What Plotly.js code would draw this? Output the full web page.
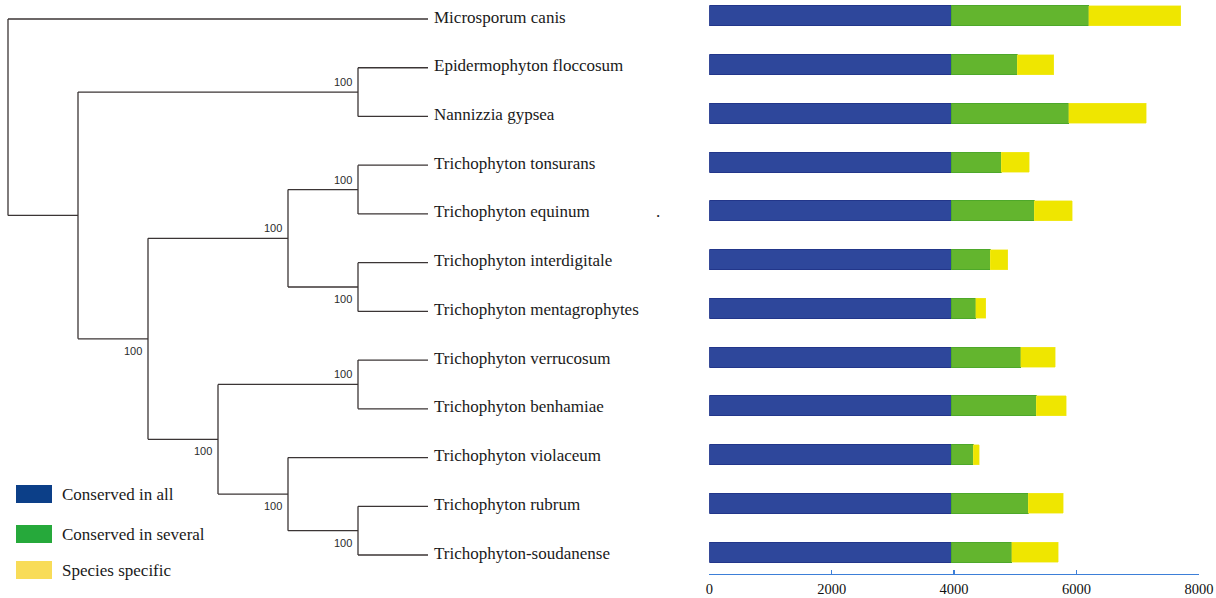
<!DOCTYPE html>
<html><head><meta charset="utf-8">
<script src="https://cdn.plot.ly/plotly-3.0.1.min.js"></script>
<style>html,body{margin:0;padding:0;background:#fff}#chart{width:1216px;height:598px}</style>
</head><body><div id="chart"></div>
<script>
// ---- data ----
const species = ["Microsporum canis","Epidermophyton floccosum","Nannizzia gypsea","Trichophyton tonsurans","Trichophyton equinum","Trichophyton interdigitale","Trichophyton mentagrophytes","Trichophyton verrucosum","Trichophyton benhamiae","Trichophyton violaceum","Trichophyton rubrum","Trichophyton-soudanense"];
const conservedAll     = [3950,3950,3950,3950,3950,3950,3950,3950,3950,3950,3950,3950];
const conservedSeveral = [2250,1080,1920,820,1360,640,400,1140,1390,360,1260,990];
const speciesSpecific  = [1500,600,1270,460,620,290,170,560,490,100,570,760];
const xTicks = [0,2000,4000,6000,8000];
const legendLabels = ["Conserved in all","Conserved in several","Species specific"];
const tree = {support:null, children:[
  "Microsporum canis",
  {support:null, children:[
    {support:100, children:["Epidermophyton floccosum","Nannizzia gypsea"]},
    {support:100, children:[
      {support:100, children:[
        {support:100, children:["Trichophyton tonsurans","Trichophyton equinum"]},
        {support:100, children:["Trichophyton interdigitale","Trichophyton mentagrophytes"]}
      ]},
      {support:100, children:[
        {support:100, children:["Trichophyton verrucosum","Trichophyton benhamiae"]},
        {support:100, children:["Trichophyton violaceum",
          {support:100, children:["Trichophyton rubrum","Trichophyton-soudanense"]}]}
      ]}
    ]}
  ]}
]};

// ---- helpers ----
const W=1216, Hh=598;
const px = x => x/W, py = y => 1 - y/Hh;
const serif = "Liberation Serif, Times New Roman, serif";
const sans = "Liberation Sans, Arial, sans-serif";

function height(n){ return (typeof n==='string') ? 0 : 1 + Math.max(...n.children.map(height)); }
const TH = height(tree);
function layoutNode(n){
  if (typeof n==='string') return {x:TH, y:species.indexOf(n), name:n, leaf:true};
  const kids = n.children.map(layoutNode);
  return {x:TH-height(n), y:(kids[0].y+kids[kids.length-1].y)/2, kids, support:n.support, leaf:false};
}
const root = layoutNode(tree);
const lx=[], ly=[]; const annotations=[];
function draw(nd){
  if (nd.leaf) {
    annotations.push({xref:'x2', yref:'y2', x:nd.x, y:nd.y, text:nd.name, showarrow:false,
      xanchor:'left', yanchor:'middle', xshift:4, yshift:2, font:{family:serif, size:17, color:'#1a1a1a'}});
    return;
  }
  lx.push(nd.x, nd.x, null); ly.push(nd.kids[0].y, nd.kids[nd.kids.length-1].y, null);
  nd.kids.forEach((k,i)=>{
    lx.push(nd.x, k.x, null); ly.push(k.y, k.y, null);
    if (!k.leaf && k.support!=null) {
      annotations.push({xref:'x2', yref:'y2', x:k.x, y:k.y, text:String(k.support), showarrow:false,
        xanchor:'right', yanchor:'middle', xshift:-4, yshift: i===0 ? 10 : -12,
        font:{family:sans, size:11, color:'#2b2b2b'}});
    }
    draw(k);
  });
}
draw(root);

// legend (drawn as shapes + text)
const legendColors = ['#0c3f88','#26a93b','#f8dc58'];
const legendTop = [485,525,561];
const shapes = [];
legendLabels.forEach((lab,i)=>{
  shapes.push({type:'rect', xref:'paper', yref:'paper', x0:px(16), x1:px(52), y0:py(legendTop[i]), y1:py(legendTop[i]+18),
    fillcolor:legendColors[i], line:{width:0}});
  annotations.push({xref:'paper', yref:'paper', x:px(60), y:py(legendTop[i]+9), text:lab, showarrow:false,
    xanchor:'left', yanchor:'middle', font:{family:serif, size:17, color:'#1a1a1a'}});
});
// stray dot in original
annotations.push({xref:'paper', yref:'paper', x:px(658), y:py(211), text:'.', showarrow:false,
  xanchor:'center', yanchor:'middle', font:{family:serif, size:17, color:'#222'}});

const barW = 0.41;
const traces = [
  {type:'scatter', mode:'lines', x:lx, y:ly, xaxis:'x2', yaxis:'y2', line:{color:'#3b3535', width:1.3}, hoverinfo:'skip', showlegend:false},
  {type:'bar', orientation:'h', name:legendLabels[0], y:species, x:conservedAll, width:barW,
    marker:{color:'#2e479b', line:{color:'#22368a', width:1}}},
  {type:'bar', orientation:'h', name:legendLabels[1], y:species, x:conservedSeveral, width:barW,
    marker:{color:'#63b52e', line:{color:'#4ea82a', width:1}}},
  {type:'bar', orientation:'h', name:legendLabels[2], y:species, x:speciesSpecific, width:barW,
    marker:{color:'#efe600', line:{color:'#f2ea30', width:0.5}}}
];

const layout = {
  width:W, height:Hh, margin:{l:0,r:0,t:0,b:0}, paper_bgcolor:'#fff', plot_bgcolor:'rgba(0,0,0,0)',
  showlegend:false, barmode:'stack', bargap:0,
  xaxis:{domain:[px(709.3), px(1198.9)], range:[0,8000], anchor:'y', showgrid:false, zeroline:false,
    showline:true, linecolor:'#3d7fd8', linewidth:1.2, ticks:'inside', ticklen:4, tickwidth:1.2, tickcolor:'#3d7fd8',
    tickvals:xTicks, ticktext:xTicks.map(String), tickfont:{family:serif, size:14.5, color:'#111'}, ticklabelstandoff:1},
  yaxis:{domain:[1-574/598, 1], type:'category', categoryarray:species, range:[11.451,-0.328], anchor:'x',
    showticklabels:false, showgrid:false, zeroline:false, showline:false, ticks:''},
  xaxis2:{domain:[0,0.5], range:[-8/70, 600/70], anchor:'y2', visible:false},
  yaxis2:{domain:[0,1], range:[11.882,-0.390], anchor:'x2', visible:false},
  shapes, annotations
};
Plotly.newPlot('chart', traces, layout, {staticPlot:true, displayModeBar:false});
</script></body></html>
